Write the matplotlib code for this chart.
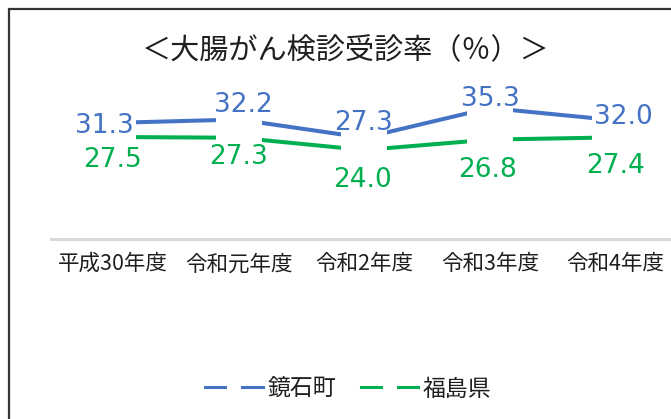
import matplotlib
matplotlib.use("Agg")
import matplotlib.pyplot as plt
from matplotlib.lines import Line2D
from matplotlib.patches import Rectangle

plt.rcParams['font.family'] = ['Noto Sans CJK JP', 'DejaVu Sans']

# data
years = ['平成30年度', '令和元年度', '令和2年度', '令和3年度', '令和4年度']
kagamiishi = [31.3, 32.2, 27.3, 35.3, 32.0]
fukushima = [27.5, 27.3, 24.0, 26.8, 27.4]
series_names = ['鏡石町', '福島県']
title = '＜大腸がん検診受診率（％）＞'

# label offsets in pixels (dx, dy up) - hand tuned to the reference
blue_offsets = [(-8.5, -0.6), (4.5, 17.5), (-0.5, 17.7), (0.5, 12), (8, 6.3)]
green_offsets = [(-0.5, -20), (-0.5, -16.8), (-2, -27), (-2.5, -27.4), (0, -25.6)]

BLUE = '#4472C4'
GREEN = '#00B050'
TEXT = '#1f1f1f'

W, H, DPI = 671, 419, 100
fig = plt.figure(figsize=(W / DPI, H / DPI), dpi=DPI)

# plot area (pixels from the left / top of the picture)
left, right = 50.5, 678.0
top, bottom = 90.5, 239.3
ax = fig.add_axes([left / W, 1 - bottom / H, (right - left) / W, (bottom - top) / H])
ax.set_xlim(-0.5, 4.5)
ax.set_ylim(0, 40)
ax.patch.set_alpha(0)

x = list(range(len(years)))
for vals, color, offs in [(kagamiishi, BLUE, blue_offsets), (fukushima, GREEN, green_offsets)]:
    ax.plot(x, vals, color=color, lw=2.9, solid_capstyle='butt',
            marker='s', ms=33, mfc='white', mec='white', mew=0, clip_on=False)
    fs = 19
    half = 0.729 * fs * DPI / 72 / 2
    for xi, v, (dx, dy) in zip(x, vals, offs):
        ax.annotate(f'{v:.1f}', (xi, v), xytext=(dx, dy - half), textcoords='offset pixels',
                    ha='center', va='baseline', fontsize=fs, color=color,
                    family='DejaVu Sans', zorder=5, annotation_clip=False)

for s in ['top', 'right', 'left']:
    ax.spines[s].set_visible(False)
ax.spines['bottom'].set_color('#D9D9D9')
ax.spines['bottom'].set_linewidth(2.2)
ax.set_yticks([])
ax.set_xticks(x)
ax.set_xticklabels(years, fontsize=15.5, color=TEXT)
ax.tick_params(axis='x', length=0, pad=10)

fig.text(345.5 / W, 1 - 51 / H, title, ha='center', va='center', fontsize=21, color=TEXT)

handles = [Line2D([], [], color=c, lw=2.2, marker='s', ms=10, mfc='white', mec='white', mew=0)
           for c in (BLUE, GREEN)]
fig.legend(handles, series_names, loc='center', bbox_to_anchor=(348.5 / W, 1 - 389 / H),
           ncol=2, frameon=False, fontsize=16.5, handlelength=2.5, handletextpad=0.2,
           columnspacing=1.1, numpoints=1, labelcolor=TEXT)

# chart border (cut off on the right and bottom)
fig.patches.append(Rectangle((8.5 / W, -0.1), 1.2, 1.1 - 9 / H, transform=fig.transFigure,
                             fill=False, edgecolor='#333333', lw=1.6))

fig.savefig('out.png', dpi=DPI)
